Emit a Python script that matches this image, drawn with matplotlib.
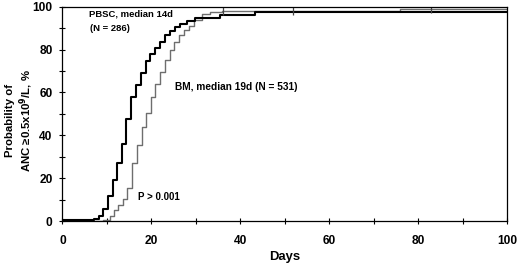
import matplotlib
matplotlib.use("Agg")
import matplotlib.pyplot as plt
from matplotlib.ticker import MultipleLocator

plt.rcParams["font.family"] = ["Liberation Sans", "DejaVu Sans"]
plt.rcParams["font.weight"] = "bold"

# PBSC (black) step curve
pbsc_days = [0, 5, 7, 8.3, 9.2, 10.3, 11.3, 12.3, 13.3, 14.4, 15.5, 16.6, 17.6, 18.7,
             19.7, 20.8, 22.0, 23.1, 24.2, 25.3, 26.4, 28.0, 29.8, 35.4, 43.3, 100]
pbsc_pct = [0.3, 0.6, 1.0, 2.2, 5.8, 11.5, 19.0, 27.0, 36.0, 47.5, 58.0, 63.4, 69.0, 74.8,
            78.0, 80.5, 83.6, 86.8, 88.8, 90.7, 92.0, 93.5, 94.6, 96.0, 97.3, 97.3]

# BM (gray) step curve
bm_days = [0, 9.2, 10.6, 11.6, 12.6, 13.6, 14.6, 15.7, 16.7, 17.8, 18.8, 19.9, 20.9,
           22.0, 23.0, 24.1, 25.1, 26.2, 27.3, 28.4, 29.5, 31.3, 33.2, 35.8, 76, 100]
bm_pct = [0, 0.7, 2.2, 5.0, 7.5, 10.5, 15.5, 27.0, 35.5, 44.0, 50.5, 58.0, 64.0,
          69.6, 75.0, 79.8, 83.6, 86.8, 89.0, 91.0, 93.8, 96.4, 97.4, 98.2, 98.8, 98.8]

# censor marks on BM curve
cens_days = [36.1, 51.8, 83.0]
cens_pct = [98.2, 98.2, 98.8]

fig = plt.figure(figsize=(5.2, 2.66), dpi=100)
ax = fig.add_axes([0.12, 0.169, 0.855, 0.806])

ax.step(bm_days, bm_pct, where="post", color="#6e6e6e", lw=1.0)
ax.step(pbsc_days, pbsc_pct, where="post", color="black", lw=1.5)
ax.plot(cens_days, cens_pct, ls="none", marker="|", ms=6, mew=0.9, color="#444444")

ax.set_xlim(0, 100)
ax.set_ylim(0, 100)
ax.xaxis.set_major_locator(MultipleLocator(20))
ax.xaxis.set_minor_locator(MultipleLocator(10))
ax.yaxis.set_major_locator(MultipleLocator(20))
ax.yaxis.set_minor_locator(MultipleLocator(10))
ax.tick_params(which="both", direction="inout", length=4, width=0.8, labelsize=8.6)
ax.tick_params(axis="x", pad=8)
ax.tick_params(axis="y", pad=5)
for s in ax.spines.values():
    s.set_linewidth(0.9)
for lab in ax.get_xticklabels() + ax.get_yticklabels():
    lab.set_fontweight("bold")

ax.set_xlabel("Days", fontsize=9.4, fontweight="bold", labelpad=3)
ax.set_ylabel("Probability of\nANC \u22650.5x10$^{\\mathbf{9}}$/L, %", fontsize=8.2,
              fontweight="bold", linespacing=1.2)
ax.yaxis.set_label_coords(-0.062, 0.47)

ax.text(5.9, 96.8, "PBSC, median 14d", fontsize=6.8, fontweight="bold", va="center")
ax.text(6.3, 89.6, "(N = 286)", fontsize=6.8, fontweight="bold", va="center")
ax.text(25.4, 62.5, "BM, median 19d (N = 531)", fontsize=7.3, fontweight="bold", va="center")
ax.text(17.0, 11.0, "P > 0.001", fontsize=7, fontweight="bold", va="center")

fig.savefig("out.png", dpi=100)
